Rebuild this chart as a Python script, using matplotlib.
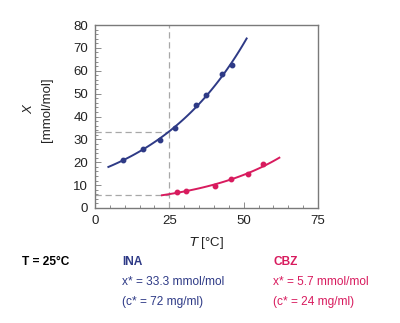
import numpy as np
import matplotlib
matplotlib.use("Agg")
import matplotlib.pyplot as plt
from matplotlib.ticker import MultipleLocator

plt.rcParams['font.family'] = ['Liberation Sans', 'DejaVu Sans']

# measured solubility points
ina_t = [9.4, 16.1, 21.9, 26.9, 34.0, 37.3, 42.7, 46.1]
ina_x = [21.0, 25.8, 29.8, 34.8, 45.2, 49.2, 58.5, 62.5]
cbz_t = [27.5, 30.6, 40.4, 45.8, 51.4, 56.6]
cbz_x = [6.8, 7.5, 9.7, 12.6, 14.7, 19.2]

# range of each fitted curve
ina_fit_range = [4.5, 51.0]
cbz_fit_range = [22.5, 62.0]

# reference point at 25 C
t_ref = 25
ina_ref = 33.3
cbz_ref = 5.7

ina_color = "#2e3a86"
cbz_color = "#d81b5e"
guide_color = "#a8a8a8"
spine_color = "#7a7a7a"


def exp_fit(t, x, rng):
    b, log_a = np.polyfit(t, np.log(x), 1)
    tt = np.linspace(rng[0], rng[1], 100)
    return tt, np.exp(log_a + b * tt)


fig = plt.figure(figsize=(4.0, 3.23), dpi=100)
ax = fig.add_axes([95 / 400, 1 - 208 / 323, 223 / 400, 183 / 323])

# guide lines
ax.plot([t_ref, t_ref], [0, 80], ls=(0, (5, 3)), color=guide_color, lw=0.9)
ax.plot([0, t_ref], [ina_ref, ina_ref], ls=(0, (5, 3)), color=guide_color, lw=0.9)
ax.plot([0, t_ref], [cbz_ref, cbz_ref], ls=(0, (5, 3)), color=guide_color, lw=0.9)

tt, xx = exp_fit(ina_t, ina_x, ina_fit_range)
ax.plot(tt, xx, color=ina_color, lw=1.4)
ax.plot(ina_t, ina_x, 'o', color=ina_color, ms=3.2)

tt, xx = exp_fit(cbz_t, cbz_x, cbz_fit_range)
ax.plot(tt, xx, color=cbz_color, lw=1.4)
ax.plot(cbz_t, cbz_x, 'o', color=cbz_color, ms=3.2)

ax.set_xlim(0, 75)
ax.set_ylim(0, 80)
ax.xaxis.set_major_locator(MultipleLocator(25))
ax.xaxis.set_minor_locator(MultipleLocator(5))
ax.yaxis.set_major_locator(MultipleLocator(10))
ax.yaxis.set_minor_locator(MultipleLocator(2))
ax.tick_params(which='both', direction='in', color=spine_color, labelsize=9.5,
               labelcolor='#222222', width=0.6)
ax.tick_params(which='major', length=4, pad=5)
ax.tick_params(which='minor', length=2)
for s in ax.spines.values():
    s.set_color(spine_color)
    s.set_linewidth(1.0)

# axis labels
fig.text(29 / 400, 1 - 110 / 323, "X", style='italic', rotation=90,
         ha='center', va='center', fontsize=9.5, color='#222222')
fig.text(47 / 400, 1 - 110 / 323, "[mmol/mol]", rotation=90,
         ha='center', va='center', fontsize=9.5, color='#222222')
fig.text(207 / 400, 1 - 243 / 323, "$\\mathit{T}$ [°C]", ha='center', va='center',
         fontsize=9.5, color='#222222')

# summary text
fs = 8.6
fig.text(22 / 400, 1 - 262 / 323, "T = 25°C", fontweight='bold', fontsize=fs,
         va='center', color='black')
fig.text(122 / 400, 1 - 262 / 323, "INA", fontweight='bold', fontsize=fs,
         va='center', color=ina_color)
fig.text(122 / 400, 1 - 282 / 323, "x* = 33.3 mmol/mol", fontsize=fs,
         va='center', color=ina_color)
fig.text(122 / 400, 1 - 302 / 323, "(c* = 72 mg/ml)", fontsize=fs,
         va='center', color=ina_color)
fig.text(273 / 400, 1 - 262 / 323, "CBZ", fontweight='bold', fontsize=fs,
         va='center', color=cbz_color)
fig.text(273 / 400, 1 - 282 / 323, "x* = 5.7 mmol/mol", fontsize=fs,
         va='center', color=cbz_color)
fig.text(273 / 400, 1 - 302 / 323, "(c* = 24 mg/ml)", fontsize=fs,
         va='center', color=cbz_color)

fig.savefig("out.png", dpi=100)
